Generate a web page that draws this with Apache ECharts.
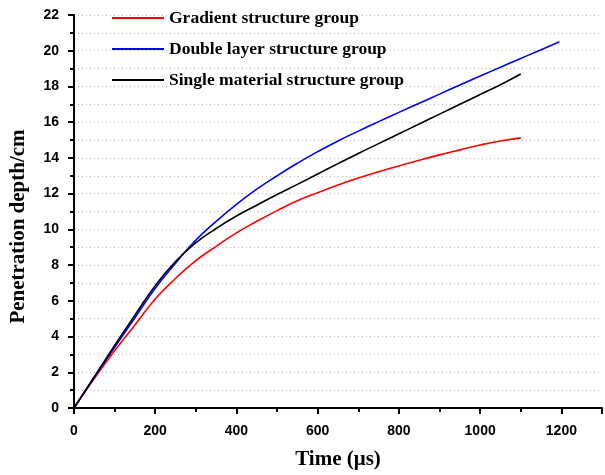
<!DOCTYPE html>
<html>
<head>
<meta charset="utf-8">
<script src="https://cdn.jsdelivr.net/npm/echarts@6/dist/echarts.min.js"></script>
<style>
  html, body { margin: 0; padding: 0; background: #fff; }
  #chart { width: 605px; height: 475px; }
</style>
</head>
<body>
<div id="chart"></div>
<script>
// series names
const seriesNames = [
  "Gradient structure group",
  "Double layer structure group",
  "Single material structure group"
];

// time (µs) and penetration depth (cm)
const gradientTime = [0, 50, 100, 150, 200, 250, 300, 350, 400, 450, 500, 550, 600, 650, 700, 750, 800, 850, 900, 950, 1000, 1050, 1100];
const gradientDepth = [0, 1.65, 3.2, 4.65, 6.1, 7.25, 8.25, 9.05, 9.8, 10.45, 11.05, 11.6, 12.05, 12.48, 12.87, 13.22, 13.55, 13.87, 14.17, 14.45, 14.72, 14.95, 15.12];

const doubleTime = [0, 50, 100, 150, 200, 250, 300, 350, 400, 450, 500, 550, 600, 650, 700, 750, 800, 850, 900, 950, 1000, 1050, 1100, 1150, 1195];
const doubleDepth = [0, 1.72, 3.4, 5.05, 6.7, 8.1, 9.4, 10.45, 11.4, 12.25, 13.0, 13.7, 14.35, 14.95, 15.5, 16.03, 16.55, 17.06, 17.57, 18.08, 18.58, 19.08, 19.57, 20.05, 20.5];

const singleTime = [0, 50, 100, 150, 200, 250, 300, 350, 400, 450, 500, 550, 600, 650, 700, 750, 800, 850, 900, 950, 1000, 1050, 1100];
const singleDepth = [0, 1.75, 3.5, 5.2, 6.85, 8.2, 9.25, 10.05, 10.75, 11.35, 11.95, 12.52, 13.1, 13.68, 14.25, 14.8, 15.35, 15.9, 16.45, 17.0, 17.55, 18.1, 18.7];

const seriesColors = ["#ff0000", "#0000ff", "#000000"];

function pairs(xs, ys) {
  return xs.map(function (x, i) { return [x, ys[i]]; });
}

const serifFont = "'Times New Roman', 'Liberation Serif', serif";
const sansFont = "Arial, 'Liberation Sans', sans-serif";
const dotted = { color: "#b5b5b5", type: [1, 3], width: 1 };
const tickStyle = { color: "#000", width: 2 };

let myChart = echarts.init(document.getElementById("chart"));

let option = {
  animation: false,
  grid: { left: 72, right: 3, top: 15, bottom: 62.5 },
  legend: {
    orient: "vertical",
    left: 107,
    top: 3,
    icon: "rect",
    itemWidth: 52,
    itemHeight: 2,
    itemGap: 11,
    textStyle: {
      fontFamily: serifFont,
      fontWeight: "bold",
      fontSize: 17.5,
      color: "#000",
      lineHeight: 20,
      backgroundColor: "#fff"
    },
    data: seriesNames
  },
  xAxis: {
    type: "value",
    min: 0,
    max: 1300,
    interval: 200,
    name: "Time (μs)",
    nameLocation: "middle",
    nameGap: 41,
    nameTextStyle: { fontFamily: serifFont, fontWeight: "bold", fontSize: 21, color: "#000" },
    axisLine: { show: true, onZero: false, lineStyle: { color: "#000", width: 2 } },
    axisTick: { show: true, inside: false, length: 6, lineStyle: tickStyle },
    minorTick: { show: true, splitNumber: 2, length: 4, lineStyle: tickStyle },
    axisLabel: {
      margin: 16,
      fontFamily: sansFont, fontWeight: "bold", fontSize: 14, color: "#000",
      showMaxLabel: false,
      formatter: function (v) { return String(v); }
    },
    splitLine: { show: false }
  },
  yAxis: {
    type: "value",
    min: 0,
    max: 22,
    interval: 2,
    name: "Penetration depth/cm",
    nameLocation: "middle",
    nameGap: 45,
    nameTextStyle: {
      fontFamily: serifFont, fontWeight: "bold", fontSize: 21, color: "#000",
      padding: [0, 30, 0, 0]
    },
    axisLine: { show: true, lineStyle: { color: "#000", width: 2 } },
    axisTick: { show: true, inside: false, length: 6, lineStyle: tickStyle },
    minorTick: { show: true, splitNumber: 2, length: 4, lineStyle: tickStyle },
    axisLabel: {
      margin: 15,
      fontFamily: sansFont, fontWeight: "bold", fontSize: 14, color: "#000",
      formatter: function (v) { return String(v); }
    },
    splitLine: { show: true, lineStyle: dotted },
    minorSplitLine: { show: true, lineStyle: dotted }
  },
  series: [
    {
      name: seriesNames[0],
      type: "line",
      data: pairs(gradientTime, gradientDepth),
      symbol: "none",
      smooth: true,
      color: seriesColors[0],
      lineStyle: { width: 1.6 },
      z: 3
    },
    {
      name: seriesNames[1],
      type: "line",
      data: pairs(doubleTime, doubleDepth),
      symbol: "none",
      smooth: true,
      color: seriesColors[1],
      lineStyle: { width: 1.6 },
      z: 4
    },
    {
      name: seriesNames[2],
      type: "line",
      data: pairs(singleTime, singleDepth),
      symbol: "none",
      smooth: true,
      color: seriesColors[2],
      lineStyle: { width: 1.6 },
      z: 5
    }
  ]
};

myChart.setOption(option);
</script>
</body>
</html>
